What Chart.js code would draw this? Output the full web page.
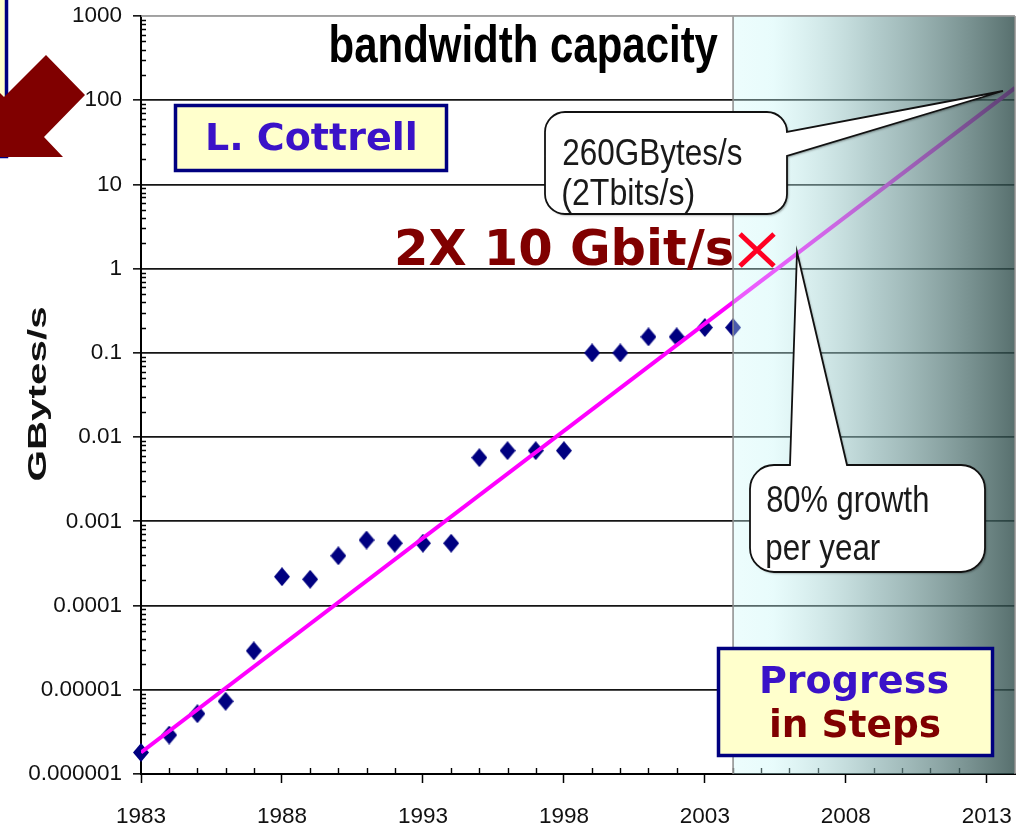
<!DOCTYPE html>
<html>
<head>
<meta charset="utf-8">
<title>bandwidth capacity</title>
<script src="https://cdn.jsdelivr.net/npm/chart.js@4.4.1/dist/chart.umd.min.js"></script>
<style>
  html, body { margin: 0; padding: 0; background: #fff; overflow: hidden; }
  #wrap { width: 1017px; height: 833px; position: relative; }
</style>
</head>
<body>
<div id="wrap"><canvas id="chart" width="1017" height="833"></canvas></div>
<script>
// Measured throughput per year (GBytes/s)
const years = [1983, 1984, 1985, 1986, 1987, 1988, 1989, 1990, 1991, 1992, 1993,
               1994, 1995, 1996, 1997, 1998, 1999, 2000, 2001, 2002, 2003, 2004];
const gbytesPerSec = [1.8e-6, 2.9e-6, 5.2e-6, 7.3e-6, 2.9e-5, 2.2e-4, 2.05e-4, 3.9e-4,
                      6.0e-4, 5.5e-4, 5.5e-4, 5.5e-4, 5.7e-3, 6.9e-3, 6.9e-3, 6.9e-3,
                      0.1, 0.1, 0.155, 0.155, 0.2, 0.2];

// 80% per year growth trend (straight line on the log axis)
const trendYears = [1983, 2014];
const trendGBytes = [1.8e-6, 140];

// Axis ticks
const xTickValues = [1983, 1988, 1993, 1998, 2003, 2008, 2013];
const xTickLabels = ['1983', '1988', '1993', '1998', '2003', '2008', '2013'];
const yTickValues = [1e-6, 1e-5, 1e-4, 1e-3, 1e-2, 1e-1, 1, 10, 100, 1000];
const yTickLabels = ['0.000001', '0.00001', '0.0001', '0.001', '0.01', '0.1', '1', '10', '100', '1000'];

// Projection region starts here
const projectionFromYear = 2004;

const NARROW = "'Liberation Sans Narrow', 'Liberation Sans', Arial, sans-serif";
const WIDE = "'DejaVu Sans', Verdana, sans-serif";
const ARIAL = "'Liberation Sans', Arial, sans-serif";

// Diamond marker sprite, a little taller than wide
function diamondSprite(w, h, color) {
  const c = document.createElement('canvas');
  c.width = w; c.height = h;
  const g = c.getContext('2d');
  g.fillStyle = color;
  g.beginPath();
  g.moveTo(w / 2, 0); g.lineTo(w, h / 2); g.lineTo(w / 2, h); g.lineTo(0, h / 2);
  g.closePath(); g.fill();
  return c;
}

// Draw text so that its ink spans exactly `width` px starting at x
function fitText(ctx, text, x, base, width, font, color) {
  ctx.save();
  ctx.font = font;
  ctx.fillStyle = color;
  ctx.textAlign = 'left';
  ctx.textBaseline = 'alphabetic';
  const m = ctx.measureText(text);
  const ink = m.actualBoundingBoxRight + m.actualBoundingBoxLeft;
  const s = width / ink;
  ctx.translate(x + m.actualBoundingBoxLeft * s, base);
  ctx.scale(s, 1);
  ctx.fillText(text, 0, 0);
  ctx.restore();
}

function labelBox(ctx, x, y, w, h) {
  ctx.save();
  ctx.fillStyle = '#ffffcc';
  ctx.fillRect(x, y, w, h);
  ctx.strokeStyle = '#000080';
  ctx.lineWidth = 3.5;
  ctx.strokeRect(x, y, w, h);
  ctx.restore();
}

function strokeBubble(ctx, pathFn) {
  ctx.save();
  ctx.shadowColor = 'rgba(0,0,0,0.35)';
  ctx.shadowBlur = 2;
  ctx.shadowOffsetX = 1.5;
  ctx.shadowOffsetY = 1.5;
  ctx.beginPath(); pathFn(); ctx.fillStyle = '#fff'; ctx.fill();
  ctx.shadowColor = 'transparent';
  ctx.lineWidth = 1.8;
  ctx.strokeStyle = '#111';
  ctx.lineJoin = 'miter';
  ctx.stroke();
  ctx.restore();
}

// keep the plot area fixed: no extra room reserved for edge tick labels
function noEdgePadding(s) {
  s.paddingLeft = 0; s.paddingRight = 0; s.paddingTop = 0; s.paddingBottom = 0;
}

const decor = {
  id: 'decor',
  beforeDraw(chart) {
    const ctx = chart.ctx;
    ctx.save();
    ctx.fillStyle = '#fff';
    ctx.fillRect(0, 0, chart.width, chart.height);
    ctx.restore();
  },
  beforeDatasetsDraw(chart) {
    // minor ticks: every year on x, 2..9 per decade on y
    const { ctx, chartArea: a, scales: { x, y } } = chart;
    ctx.save();
    ctx.strokeStyle = '#000';
    ctx.lineWidth = 1.4;
    ctx.beginPath();
    for (let yr = x.min + 1; yr < x.max; yr++) {
      if (xTickValues.includes(yr)) continue;
      const px = Math.round(x.getPixelForValue(yr)) + 0.5;
      ctx.moveTo(px, a.bottom - 6); ctx.lineTo(px, a.bottom);
    }
    for (let k = -6; k < 3; k++) {
      for (let m = 2; m < 10; m++) {
        const py = Math.round(y.getPixelForValue(m * Math.pow(10, k))) + 0.5;
        ctx.moveTo(a.left, py); ctx.lineTo(a.left + 5, py);
      }
    }
    ctx.stroke();
    ctx.restore();
  },
  afterDatasetsDraw(chart) {
    const { ctx, chartArea: a, scales: { x } } = chart;
    ctx.save();

    // projection shading
    const x0 = x.getPixelForValue(projectionFromYear);
    const g = ctx.createLinearGradient(x0, 0, a.right, 0);
    g.addColorStop(0, 'rgba(205,250,250,0.36)');
    g.addColorStop(0.14, 'rgba(195,246,246,0.38)');
    g.addColorStop(0.5, 'rgba(128,170,170,0.6)');
    g.addColorStop(1, 'rgba(46,76,74,0.8)');
    ctx.fillStyle = g;
    ctx.fillRect(x0, a.top, a.right - x0, a.bottom - a.top);

    // frame
    ctx.strokeStyle = '#8c8c8c';
    ctx.lineWidth = 1.5;
    ctx.beginPath();
    ctx.moveTo(x0, a.top); ctx.lineTo(x0, a.bottom);
    ctx.moveTo(a.right, a.top); ctx.lineTo(a.right, a.bottom);
    ctx.stroke();
    ctx.strokeStyle = '#a0a0a0';
    ctx.beginPath();
    ctx.moveTo(a.left, a.top); ctx.lineTo(a.right, a.top);
    ctx.stroke();

    // box and arrow at top left
    labelBox(ctx, -60, -10, 66.5, 166.5);
    ctx.fillStyle = '#800000';
    ctx.beginPath();
    ctx.moveTo(46, 55); ctx.lineTo(85, 95); ctx.lineTo(44, 137); ctx.lineTo(63, 157);
    ctx.lineTo(-16, 157); ctx.lineTo(-16, 77); ctx.lineTo(4, 97);
    ctx.closePath(); ctx.fill();

    // author box
    labelBox(ctx, 175.5, 105.5, 271, 65);
    fitText(ctx, 'L. Cottrell', 208, 150, 207, `bold 37px ${WIDE}`, '#3a12c8');

    // title
    fitText(ctx, 'bandwidth capacity', 331, 62, 387, `bold 52px ${NARROW}`, '#000');

    // callout: 260GBytes/s
    strokeBubble(ctx, () => {
      const L = 545, T = 112, R = 787, B = 214, r = 20;
      ctx.moveTo(L + r, T); ctx.lineTo(R - r, T);
      ctx.arcTo(R, T, R, T + r, r);
      ctx.lineTo(1003, 91);
      ctx.lineTo(R, 156);
      ctx.lineTo(R, B - r); ctx.arcTo(R, B, R - r, B, r);
      ctx.lineTo(L + r, B); ctx.arcTo(L, B, L, B - r, r);
      ctx.lineTo(L, T + r); ctx.arcTo(L, T, L + r, T, r);
      ctx.closePath();
    });
    fitText(ctx, '260GBytes/s', 563, 165, 179, `37px ${NARROW}`, '#1a1a1a');
    fitText(ctx, '(2Tbits/s)', 563, 205, 131, `37px ${NARROW}`, '#1a1a1a');

    // callout: 80% growth per year
    strokeBubble(ctx, () => {
      const L = 750, T = 465, R = 985, B = 572, r = 24;
      ctx.moveTo(L + r, T); ctx.lineTo(790, T);
      ctx.lineTo(797, 252);
      ctx.lineTo(847, T);
      ctx.lineTo(R - r, T); ctx.arcTo(R, T, R, T + r, r);
      ctx.lineTo(R, B - r); ctx.arcTo(R, B, R - r, B, r);
      ctx.lineTo(L + r, B); ctx.arcTo(L, B, L, B - r, r);
      ctx.lineTo(L, T + r); ctx.arcTo(L, T, L + r, T, r);
      ctx.closePath();
    });
    fitText(ctx, '80% growth', 767, 512, 161, `37px ${NARROW}`, '#1a1a1a');
    fitText(ctx, 'per year', 767, 560, 113, `37px ${NARROW}`, '#1a1a1a');

    // 2X 10 Gbit/s marker
    fitText(ctx, '2X 10 Gbit/s', 397, 265, 335, `bold 49px ${WIDE}`, '#800000');
    ctx.strokeStyle = '#ff0022';
    ctx.lineWidth = 5;
    ctx.lineCap = 'butt';
    ctx.beginPath();
    ctx.moveTo(740, 234); ctx.lineTo(774, 266);
    ctx.moveTo(774, 234); ctx.lineTo(740, 266);
    ctx.stroke();

    // Progress in Steps
    labelBox(ctx, 718.5, 648.5, 274, 107);
    fitText(ctx, 'Progress', 762, 693, 186, `bold 37px ${WIDE}`, '#3a12c8');
    fitText(ctx, 'in Steps', 772, 737, 168, `bold 37px ${WIDE}`, '#800000');

    // y axis title
    ctx.save();
    ctx.translate(46, 480);
    ctx.rotate(-Math.PI / 2);
    fitText(ctx, 'GBytes/s', 0, 0, 173, `bold 26px ${ARIAL}`, '#111');
    ctx.restore();

    ctx.restore();
  }
};

const tickFont = { family: ARIAL, size: 22.5 };

new Chart(document.getElementById('chart'), {
  type: 'scatter',
  data: {
    datasets: [
      {
        label: 'trend',
        data: trendYears.map((yr, i) => ({ x: yr, y: trendGBytes[i] })),
        showLine: true,
        borderColor: '#ff00ff',
        borderWidth: 4,
        pointRadius: 0,
        fill: false,
        tension: 0
      },
      {
        label: 'GBytes/s',
        data: years.map((yr, i) => ({ x: yr, y: gbytesPerSec[i] })),
        showLine: false,
        pointStyle: diamondSprite(16, 19, '#000080'),
        pointRadius: 8,
        clip: false
      }
    ]
  },
  options: {
    responsive: false,
    animation: false,
    events: [],
    layout: { autoPadding: false, padding: { top: 16, right: 2, left: 0, bottom: 0 } },
    plugins: { legend: { display: false }, tooltip: { enabled: false } },
    scales: {
      x: {
        type: 'linear',
        min: 1983,
        max: 2014,
        afterBuildTicks: s => { s.ticks = xTickValues.map(v => ({ value: v })); },
        afterFit: s => { s.height = 59; noEdgePadding(s); },
        ticks: {
          autoSkip: false, maxRotation: 0, minRotation: 0, padding: 20,
          color: '#111', font: tickFont,
          callback: (v, i) => xTickLabels[i]
        },
        grid: { drawOnChartArea: false, drawTicks: true, tickLength: 9, tickColor: '#000', tickWidth: 1.5 },
        border: { display: true, color: '#000', width: 2 }
      },
      y: {
        type: 'logarithmic',
        min: 1e-6,
        max: 1000,
        afterBuildTicks: s => { s.ticks = yTickValues.map(v => ({ value: v, major: true })); },
        afterFit: s => { s.width = 141; noEdgePadding(s); },
        ticks: {
          autoSkip: false, padding: 11, color: '#111', font: tickFont,
          callback: (v, i) => yTickLabels[i]
        },
        grid: {
          color: c => (c.tick && c.tick.value === 1000) ? '#a0a0a0' : '#151515',
          lineWidth: 1.7,
          drawTicks: true, tickLength: 8, tickColor: '#000', tickWidth: 1.5
        },
        border: { display: true, color: '#000', width: 2 }
      }
    }
  },
  plugins: [decor]
});
</script>
</body>
</html>
